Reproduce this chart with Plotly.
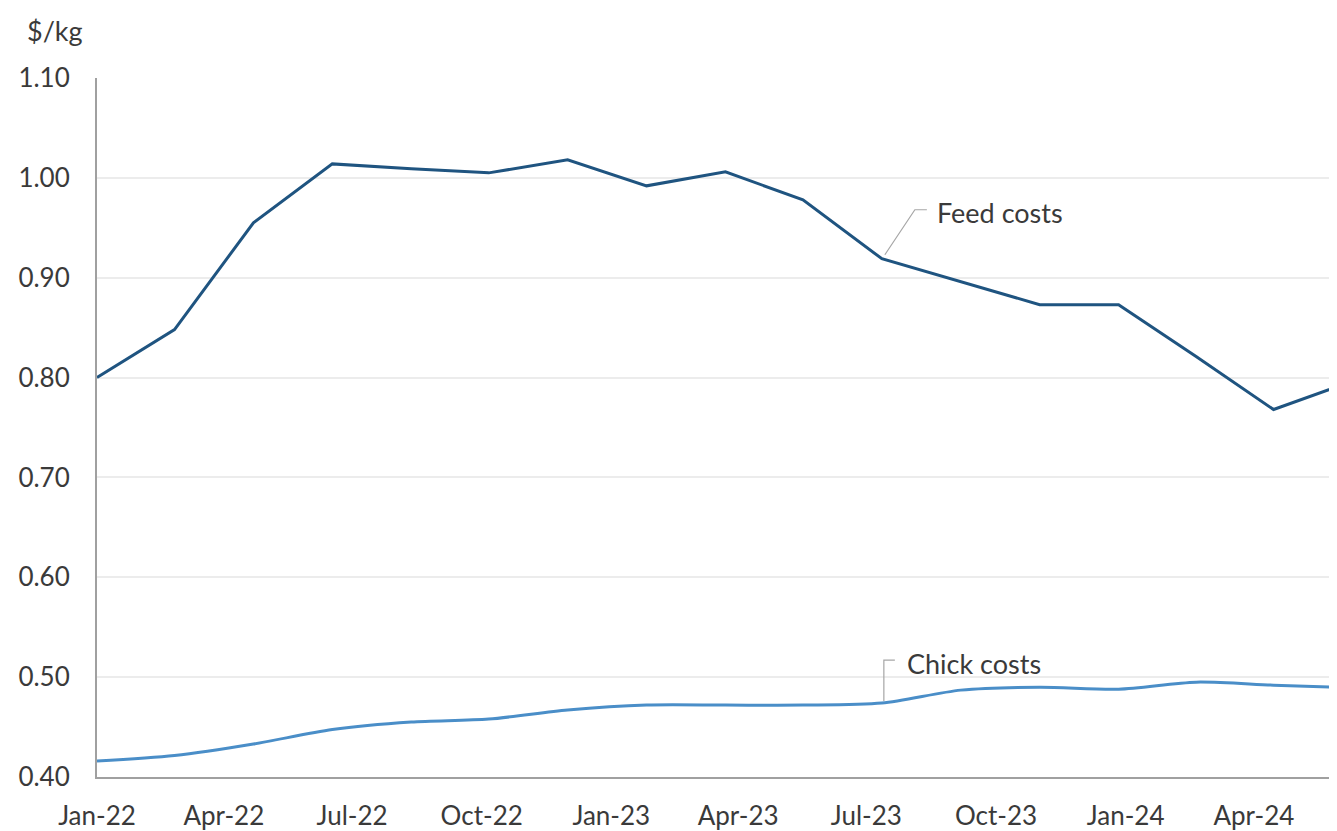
import plotly.graph_objects as go

# ---- data ----
dates = ["2022-01-01", "2022-02-25", "2022-04-22", "2022-06-17", "2022-08-12",
         "2022-10-06", "2022-12-01", "2023-01-26", "2023-03-23", "2023-05-17",
         "2023-07-12", "2023-09-06", "2023-11-01", "2023-12-27", "2024-02-20",
         "2024-04-15", "2024-06-09"]
feed_costs = [0.800, 0.848, 0.955, 1.014, 1.009, 1.005, 1.018, 0.992, 1.006,
              0.978, 0.919, 0.896, 0.873, 0.873, 0.821, 0.768, 0.796]
chick_costs = [0.416, 0.4215, 0.433, 0.4475, 0.455, 0.458, 0.467, 0.472, 0.472,
               0.472, 0.474, 0.487, 0.490, 0.488, 0.495, 0.492, 0.4895]

tick_dates = ["2022-01-01", "2022-04-01", "2022-07-01", "2022-10-01",
              "2023-01-01", "2023-04-01", "2023-07-01", "2023-10-01",
              "2024-01-01", "2024-04-01"]
tick_labels = ["Jan-22", "Apr-22", "Jul-22", "Oct-22", "Jan-23", "Apr-23",
               "Jul-23", "Oct-23", "Jan-24", "Apr-24"]
y_ticks = [0.40, 0.50, 0.60, 0.70, 0.80, 0.90, 1.00, 1.10]
label_index = 10  # point where the series labels are attached

FONT = "Lato"
TEXT = "#3a3a3a"
FEED_COLOR = "#1f5480"
CHICK_COLOR = "#4a8ec8"
LEADER = "#a6a6a6"

fig = go.Figure()
fig.add_trace(go.Scatter(x=dates, y=feed_costs, mode="lines", name="Feed costs",
                         line=dict(color=FEED_COLOR, width=3)))
fig.add_trace(go.Scatter(x=dates, y=chick_costs, mode="lines", name="Chick costs",
                         line=dict(color=CHICK_COLOR, width=3, shape="spline",
                                   smoothing=0.8)))

# leader lines (pixel offsets from the data point they label)
fig.add_shape(type="path", xref="x", yref="y", xsizemode="pixel", ysizemode="pixel",
              xanchor=dates[label_index], yanchor=feed_costs[label_index],
              path="M 3,4 L 33,49 L 45,49", line=dict(color=LEADER, width=1.2))
fig.add_shape(type="path", xref="x", yref="y", xsizemode="pixel", ysizemode="pixel",
              xanchor=dates[label_index], yanchor=chick_costs[label_index],
              path="M 2,2 L 2,43 L 13,43", line=dict(color=LEADER, width=1.2))

fig.add_annotation(x=dates[label_index], y=feed_costs[label_index], xref="x", yref="y",
                   text="Feed costs", showarrow=False, xanchor="left", yanchor="middle",
                   xshift=53, yshift=46, font=dict(family=FONT, size=27, color=TEXT))
fig.add_annotation(x=dates[label_index], y=chick_costs[label_index], xref="x", yref="y",
                   text="Chick costs", showarrow=False, xanchor="left", yanchor="middle",
                   xshift=23, yshift=40, font=dict(family=FONT, size=27, color=TEXT))
fig.add_annotation(x=0, y=1, xref="paper", yref="paper", text="$/kg", showarrow=False,
                   xanchor="left", yanchor="middle", xshift=-72, yshift=48,
                   font=dict(family=FONT, size=27, color=TEXT))

# the page body has an 8px margin, so the figure is sized to fit inside it
fig.update_layout(
    width=1329, height=823,
    margin=dict(l=89, r=0, t=70, b=54),
    paper_bgcolor="white", plot_bgcolor="white",
    showlegend=False,
    font=dict(family=FONT, size=26, color=TEXT),
)
fig.update_xaxes(
    type="date", range=["2022-01-01", "2024-05-30"],
    tickvals=tick_dates, ticktext=tick_labels,
    showgrid=False, showline=True, linecolor="#a0a0a0", linewidth=2,
    ticks="outside", ticklen=15, tickcolor="rgba(0,0,0,0)",
    tickfont=dict(family=FONT, size=26, color=TEXT),
)
fig.update_yaxes(
    range=[0.40, 1.10], tickvals=y_ticks, tickformat=".2f",
    showgrid=True, gridcolor="#ececec", gridwidth=1.5,
    showline=True, linecolor="#a0a0a0", linewidth=2, zeroline=False,
    ticks="outside", ticklen=20, tickcolor="rgba(0,0,0,0)",
    tickfont=dict(family=FONT, size=26, color=TEXT),
)

fig.write_html("out.html")
